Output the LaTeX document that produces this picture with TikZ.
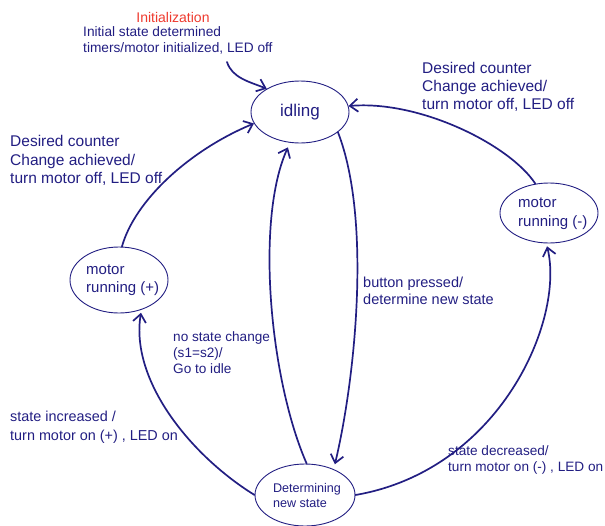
\documentclass[tikz,border=0pt]{standalone}
\usepackage{fontspec}
\setmainfont{Liberation Sans}
\usetikzlibrary{shapes.geometric,arrows.meta}
\definecolor{ink}{RGB}{34,30,130}
\definecolor{inkred}{RGB}{238,58,46}
\begin{document}
\begin{tikzpicture}[x=1pt,y=-1pt,
  state/.style={draw=ink, line width=0.9pt, ellipse, inner sep=0pt, text=ink},
  lbl/.style={text=ink, align=left, anchor=west, inner sep=0pt},
  conn/.style={draw=ink, line width=1.7pt, line cap=round, line join=round,
    -{Straight Barb[length=8pt,width=13pt,line width=1.7pt]}}]
\useasboundingbox (0,0) rectangle (605,525);

% states
\node[state, minimum width=98pt, minimum height=62pt, font=\fontsize{17}{20}\selectfont] (idle) at (300,112) {idling};
\node[state, minimum width=98pt, minimum height=60pt] (mm) at (549,213) {};
\node[lbl, font=\fontsize{15}{19}\selectfont] (mmtext) at (518,213.5) {motor\\running (-)};
\node[state, minimum width=98pt, minimum height=66pt] (mp) at (119,280) {};
\node[lbl, font=\fontsize{15}{18}\selectfont] (mptext) at (86,280) {motor\\running (+)};
\node[state, minimum width=100pt, minimum height=62pt] (det) at (305,495) {};
\node[text=ink, align=left, inner sep=0pt, font=\fontsize{12.6}{15}\selectfont] (dettext) at (307,495.5) {Determining\\new state};

% labels
\node[text=inkred, inner sep=0pt, font=\fontsize{14}{16}\selectfont] (initt) at (173,17) {Initialization};
\node[lbl, font=\fontsize{13.7}{16}\selectfont] (initl) at (83,40) {Initial state determined\\timers/motor initialized, LED off};
\node[lbl, font=\fontsize{15.5}{18}\selectfont] (lblmm) at (422,87) {Desired counter\\Change achieved/\\turn motor off, LED off};
\node[lbl, font=\fontsize{15.5}{18.5}\selectfont] (lblmp) at (10,160.5) {Desired counter\\Change achieved/\\turn motor off, LED off};
\node[lbl, font=\fontsize{14.5}{17}\selectfont] (lblbtn) at (363,290.5) {button pressed/\\determine new state};
\node[lbl, font=\fontsize{13.6}{16}\selectfont] (lblno) at (173,353) {no state change\\(s1=s2)/\\Go to idle};
\node[lbl, font=\fontsize{14.4}{19}\selectfont] (lblinc) at (10,427.5) {state increased /\\turn motor on (+) , LED on};
\node[lbl, font=\fontsize{13.6}{16}\selectfont] (lbldec) at (448,460) {state decreased/\\turn motor on (-) , LED on};

% connectors
\coordinate (start) at (227,62);
\draw[conn] (start) .. controls (232,78) and (250,82) .. (idle.145);
\draw[conn] (mm.115) .. controls (510,145) and (420,100) .. (idle.7);
\draw[conn] (mp.85) .. controls (135,200) and (190,150) .. (idle.194);
\draw[conn, shorten >=5pt] (idle.-28) .. controls (372,220) and (355,380) .. (det.42);
\draw[conn, shorten >=5pt] (det.87) .. controls (270,380) and (255,220) .. (idle.252);
\draw[conn, shorten >=3pt] (det.180) .. controls (190,455) and (130,380) .. (mp.-53);
\draw[conn, shorten >=3pt] (det.0) .. controls (500,470) and (565,320) .. (mm.265);
\end{tikzpicture}
\end{document}
